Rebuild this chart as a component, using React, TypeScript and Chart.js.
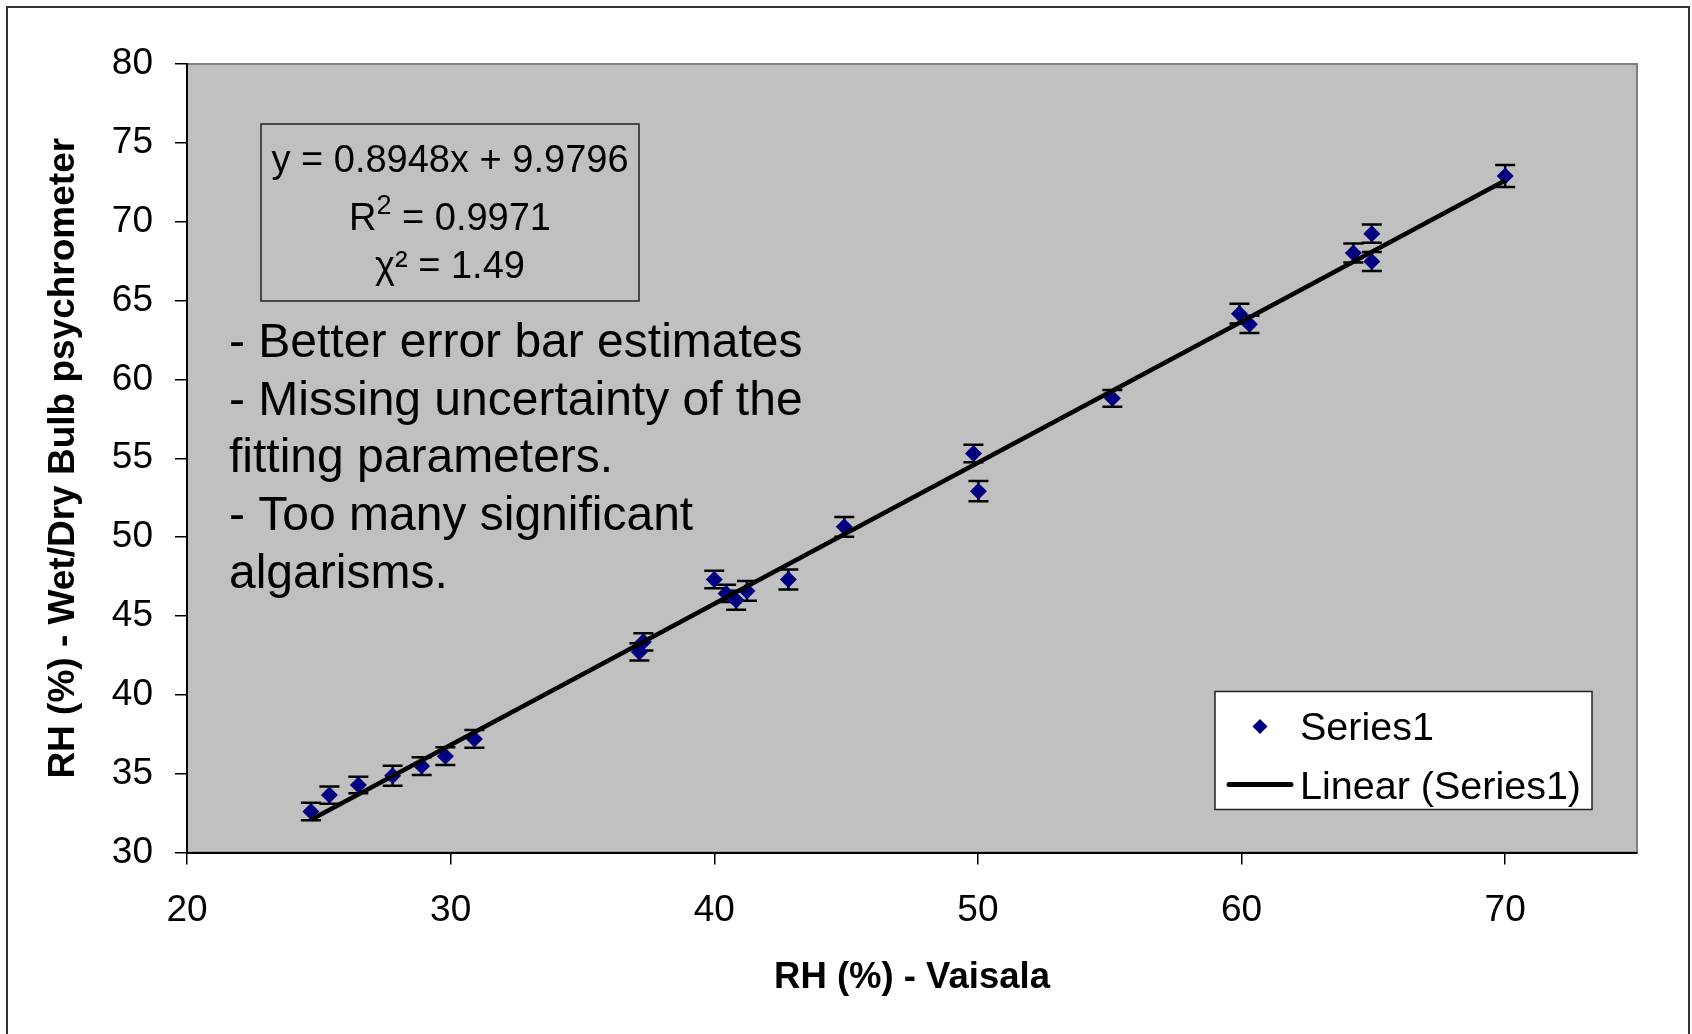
import React, { useEffect, useRef } from "react";
import { Chart, registerables } from "chart.js";

Chart.register(...registerables);

// ---- data ----
const vaisalaRH = [24.7, 25.4, 26.5, 27.8, 28.9, 29.8, 30.9, 37.16, 37.31, 40.0, 40.45, 40.83, 41.24, 42.81, 44.93, 49.83, 50.02, 55.1, 59.92, 60.3, 64.24, 64.94, 64.94, 70.0];
const psychroRH = [32.6, 33.64, 34.28, 34.87, 35.48, 36.11, 37.2, 42.72, 43.36, 47.31, 46.43, 46.0, 46.59, 47.31, 50.65, 55.3, 52.91, 58.8, 64.17, 63.49, 68.01, 69.24, 67.48, 72.9];
const psychroErr = [0.55, 0.55, 0.53, 0.63, 0.56, 0.56, 0.56, 0.55, 0.55, 0.55, 0.55, 0.6, 0.63, 0.63, 0.63, 0.55, 0.64, 0.53, 0.62, 0.55, 0.6, 0.58, 0.6, 0.7];
const xTickValues = [20, 30, 40, 50, 60, 70];
const yTickValues = [30, 35, 40, 45, 50, 55, 60, 65, 70, 75, 80];
const FIT_SLOPE = 0.8948;
const FIT_INTERCEPT = 9.9796;
const fitEquation = "y = 0.8948x + 9.9796";
const fitR2Value = "0.9971";
const fitChi2 = "χ² = 1.49";
const noteLines = [
  "- Better error bar estimates",
  "- Missing uncertainty of the",
  "fitting parameters.",
  "- Too many significant",
  "algarisms.",
];
const seriesLabel = "Series1";
const trendLabel = "Linear (Series1)";
const xTitle = "RH (%) - Vaisala";
const yTitle = "RH (%) - Wet/Dry Bulb psychrometer";

const FONT = "'Liberation Sans', Arial, sans-serif";
const NAVY = "#000080";

const backgroundPlugin = {
  id: "bgPlot",
  beforeDraw(chart: any) {
    const { ctx, chartArea: a, width, height } = chart;
    ctx.save();
    ctx.fillStyle = "#ffffff";
    ctx.fillRect(0, 0, width, height);
    ctx.strokeStyle = "#333333";
    ctx.lineWidth = 2;
    ctx.strokeRect(7, 7, 1682, height + 40);
    ctx.fillStyle = "#C0C0C0";
    ctx.fillRect(a.left, a.top, a.right - a.left, a.bottom - a.top);
    ctx.strokeStyle = "#808080";
    ctx.lineWidth = 2;
    ctx.strokeRect(a.left, a.top, a.right - a.left, a.bottom - a.top);
    ctx.restore();
  },
};

const errorBarPlugin = {
  id: "errorBars",
  beforeDatasetsDraw(chart: any) {
    const { ctx } = chart;
    const xs = chart.scales.x;
    const ys = chart.scales.y;
    ctx.save();
    ctx.strokeStyle = "#000000";
    ctx.lineWidth = 2.5;
    for (let i = 0; i < vaisalaRH.length; i++) {
      const px = xs.getPixelForValue(vaisalaRH[i]);
      const top = ys.getPixelForValue(psychroRH[i] + psychroErr[i]);
      const bot = ys.getPixelForValue(psychroRH[i] - psychroErr[i]);
      ctx.beginPath();
      ctx.moveTo(px, top);
      ctx.lineTo(px, bot);
      ctx.moveTo(px - 10, top);
      ctx.lineTo(px + 10, top);
      ctx.moveTo(px - 10, bot);
      ctx.lineTo(px + 10, bot);
      ctx.stroke();
    }
    ctx.restore();
  },
};

const annotationPlugin = {
  id: "annotations",
  afterDraw(chart: any) {
    const { ctx, chartArea: a } = chart;
    ctx.save();
    // equation box
    const bx = a.left + 74;
    const by = a.top + 60;
    const bw = 378;
    const bh = 177;
    ctx.strokeStyle = "#222222";
    ctx.lineWidth = 1.5;
    ctx.strokeRect(bx, by, bw, bh);
    const cx = bx + bw / 2;
    ctx.fillStyle = "#000000";
    ctx.textBaseline = "alphabetic";
    ctx.font = `38px ${FONT}`;
    ctx.textAlign = "center";
    ctx.fillText(fitEquation, cx, by + 48);
    // R^2 line
    ctx.textAlign = "left";
    const rW = ctx.measureText("R").width;
    const restText = " = " + fitR2Value;
    const restW = ctx.measureText(restText).width;
    ctx.font = `27px ${FONT}`;
    const supW = ctx.measureText("2").width;
    const total = rW + supW + restW;
    const lx = cx - total / 2;
    ctx.font = `38px ${FONT}`;
    ctx.fillText("R", lx, by + 106);
    ctx.font = `27px ${FONT}`;
    ctx.fillText("2", lx + rW, by + 90);
    ctx.font = `38px ${FONT}`;
    ctx.fillText(restText, lx + rW + supW, by + 106);
    ctx.textAlign = "center";
    ctx.fillText(fitChi2, cx, by + 154);
    // notes
    ctx.textAlign = "left";
    ctx.font = `48px ${FONT}`;
    noteLines.forEach((line, i) => {
      ctx.fillText(line, a.left + 42, a.top + 293 + i * 57.7);
    });
    // legend
    const ds = chart.data.datasets;
    const lx0 = a.right - 422;
    const ly0 = a.bottom - 161;
    const lw = 377;
    const lh = 118;
    ctx.fillStyle = "#ffffff";
    ctx.fillRect(lx0, ly0, lw, lh);
    ctx.strokeStyle = "#222222";
    ctx.lineWidth = 1.5;
    ctx.strokeRect(lx0, ly0, lw, lh);
    // diamond
    const dx = lx0 + 45;
    const dy = ly0 + 35;
    const r = 7.5;
    ctx.fillStyle = ds[0].backgroundColor;
    ctx.beginPath();
    ctx.moveTo(dx - r, dy);
    ctx.lineTo(dx, dy - r);
    ctx.lineTo(dx + r, dy);
    ctx.lineTo(dx, dy + r);
    ctx.closePath();
    ctx.fill();
    ctx.strokeStyle = ds[1].borderColor;
    ctx.lineWidth = 5;
    ctx.lineCap = "round";
    ctx.beginPath();
    ctx.moveTo(lx0 + 14, ly0 + 93);
    ctx.lineTo(lx0 + 76, ly0 + 93);
    ctx.stroke();
    ctx.fillStyle = "#000000";
    ctx.font = `39.5px ${FONT}`;
    ctx.fillText(ds[0].label, lx0 + 85, ly0 + 48);
    ctx.fillText(ds[1].label, lx0 + 85, ly0 + 107);
    ctx.restore();
  },
};

export default function App() {
  const canvasRef = useRef<HTMLCanvasElement | null>(null);

  useEffect(() => {
    document.body.style.margin = "0";
    const canvas = canvasRef.current;
    if (!canvas) return;
    const xMin = Math.min(...vaisalaRH);
    const xMax = Math.max(...vaisalaRH);
    const trend = [
      { x: xMin, y: FIT_SLOPE * xMin + FIT_INTERCEPT },
      { x: xMax, y: FIT_SLOPE * xMax + FIT_INTERCEPT },
    ];
    const points = vaisalaRH.map((x, i) => ({ x, y: psychroRH[i] }));

    const chart = new Chart(canvas, {
      type: "scatter",
      data: {
        datasets: [
          {
            label: seriesLabel,
            data: points,
            pointStyle: "rectRot",
            pointRadius: 8.5,
            backgroundColor: NAVY,
            borderColor: NAVY,
            borderWidth: 0,
            order: 1,
          },
          {
            label: trendLabel,
            type: "line",
            data: trend,
            borderColor: "#000000",
            borderWidth: 4.5,
            pointRadius: 0,
            showLine: true,
            fill: false,
            order: 0,
          } as any,
        ],
      },
      options: {
        animation: false,
        responsive: false,
        maintainAspectRatio: false,
        devicePixelRatio: 1,
        layout: { padding: { top: 64, right: 55, bottom: 0, left: 0 } },
        plugins: {
          legend: { display: false },
          tooltip: { enabled: false },
        },
        scales: {
          x: {
            type: "linear",
            min: 20,
            max: 75,
            afterBuildTicks: (s: any) => {
              s.ticks = xTickValues.map((v) => ({ value: v }));
            },
            afterFit: (s: any) => {
              s.height = 181.5;
            },
            ticks: {
              font: { family: FONT, size: 37 },
              color: "#000000",
              padding: 24,
              maxRotation: 0,
            },
            grid: {
              drawOnChartArea: false,
              drawTicks: true,
              tickLength: 12,
              color: "#000000",
              lineWidth: 1.5,
            },
            border: { display: true, color: "#000000", width: 2 },
            title: {
              display: true,
              text: xTitle,
              color: "#000000",
              font: { family: FONT, size: 36.5, weight: "bold" },
              padding: { top: 0, bottom: 34 },
            },
          },
          y: {
            type: "linear",
            min: 30,
            max: 80,
            afterBuildTicks: (s: any) => {
              s.ticks = yTickValues.map((v) => ({ value: v }));
            },
            afterFit: (s: any) => {
              s.width = 187;
            },
            ticks: {
              font: { family: FONT, size: 37 },
              color: "#000000",
              padding: 22,
            },
            grid: {
              drawOnChartArea: false,
              drawTicks: true,
              tickLength: 12,
              color: "#000000",
              lineWidth: 1.5,
            },
            border: { display: true, color: "#000000", width: 2 },
            title: {
              display: true,
              text: yTitle,
              color: "#000000",
              font: { family: FONT, size: 37, weight: "bold" },
              padding: { top: 42, bottom: 0 },
            },
          },
        },
      } as any,
      plugins: [backgroundPlugin, errorBarPlugin, annotationPlugin],
    });
    return () => chart.destroy();
  }, []);

  return (
    <div style={{ width: 1692, height: 1034 }}>
      <canvas ref={canvasRef} width={1692} height={1034} style={{ display: "block" }} />
    </div>
  );
}
